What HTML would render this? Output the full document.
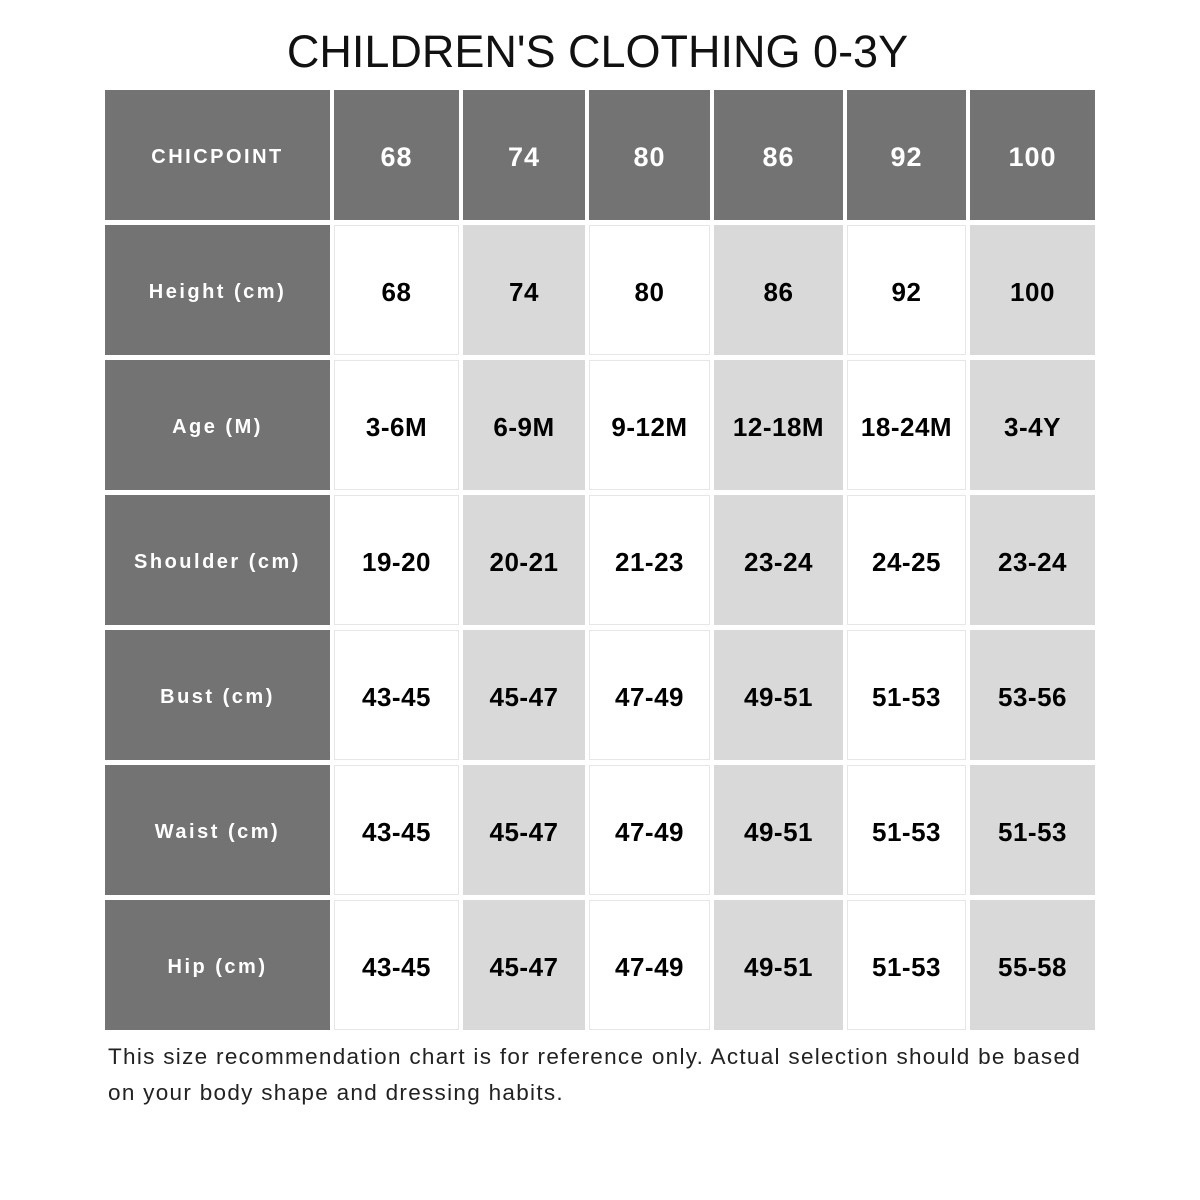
<!DOCTYPE html>
<html><head><style>
body{margin:0;width:1200px;height:1200px;background:#fff;position:relative;font-family:"Liberation Sans",sans-serif;overflow:hidden}
.c{position:absolute;display:flex;align-items:center;justify-content:center;box-sizing:border-box;font-weight:bold;padding-top:4px}
.d{background:#737373;color:#fff;font-size:20px;letter-spacing:2.5px}
.h{background:#737373;color:#fff;font-size:27px;letter-spacing:1px}
.w{background:#fff;border:1.5px solid #e6e6e6;color:#000;font-size:26px;letter-spacing:.5px}
.l{background:#d9d9d9;color:#000;font-size:26px;letter-spacing:.5px}
.t{position:absolute;left:0;width:1195px;top:26px;text-align:center;font-size:45px;color:#111;letter-spacing:0}
.f{position:absolute;left:108px;top:1039px;font-size:22.5px;line-height:36px;color:#222;letter-spacing:1.3px;white-space:nowrap}
</style></head><body>
<div class="t">CHILDREN'S CLOTHING 0-3Y</div>
<div id="g"></div>
<div class="f">This size recommendation chart is for reference only. Actual selection should be based<br>on your body shape and dressing habits.</div>
<script>
var xs=[[105,330],[334,459],[463,585],[589,710],[714,843],[847,966],[970,1095]];
var ys=[90,225,360,495,630,765,900];
var rows=[["CHICPOINT","68","74","80","86","92","100"],
["Height (cm)","68","74","80","86","92","100"],
["Age (M)","3-6M","6-9M","9-12M","12-18M","18-24M","3-4Y"],
["Shoulder (cm)","19-20","20-21","21-23","23-24","24-25","23-24"],
["Bust (cm)","43-45","45-47","47-49","49-51","51-53","53-56"],
["Waist (cm)","43-45","45-47","47-49","49-51","51-53","51-53"],
["Hip (cm)","43-45","45-47","47-49","49-51","51-53","55-58"]];
var h="";
for(var r=0;r<7;r++)for(var c=0;c<7;c++){
var cls=c==0?"d":(r==0?"h":(c%2==1?"w":"l"));
h+='<div class="c '+cls+'" style="left:'+xs[c][0]+'px;top:'+ys[r]+'px;width:'+(xs[c][1]-xs[c][0])+'px;height:130px">'+rows[r][c]+'</div>';}
document.getElementById("g").innerHTML=h;
</script>
</body></html>
